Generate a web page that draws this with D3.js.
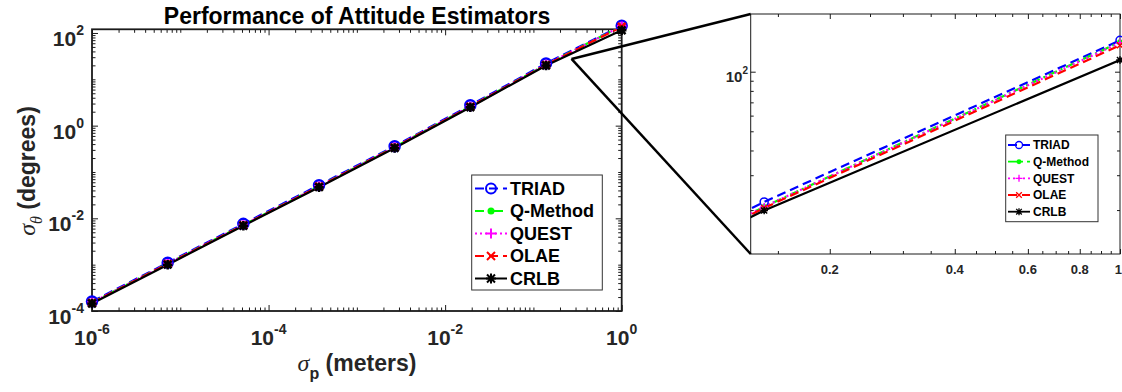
<!DOCTYPE html>
<html><head><meta charset="utf-8">
<script src="https://cdn.jsdelivr.net/npm/d3@7"></script>
<style>
html,body{margin:0;padding:0;background:#fff;}
svg{display:block;font-family:"Liberation Sans",Arial,Helvetica,sans-serif;}
</style></head><body>
<svg id="chart" width="1122" height="392"></svg>
<script>
// Position noise level (m)
const sigmaP = [1e-6, 7.2e-6, 5.18e-5, 3.73e-4, 2.68e-3, 1.93e-2, 0.139, 1];
// Attitude error (deg) for each estimator
const triad   = [1.6e-4, 1.1e-3, 7.6e-3, 5.2e-2, 0.36, 2.75, 22.0, 144];
const qMethod = [1.52e-4, 1.05e-3, 7.2e-3, 4.9e-2, 0.345, 2.6, 20.8, 141];
const quest   = [1.52e-4, 1.05e-3, 7.2e-3, 4.9e-2, 0.345, 2.6, 20.8, 140];
const olae    = [1.5e-4, 1.04e-3, 7.1e-3, 4.85e-2, 0.34, 2.58, 20.5, 136];
const crlb    = [1.45e-4, 1.0e-3, 6.9e-3, 4.7e-2, 0.33, 2.5, 19.9, 114.6];
const seriesNames = ["TRIAD", "Q-Method", "QUEST", "OLAE", "CRLB"];
// Labelled tick exponents / values
const xTickExp = [-6, -4, -2, 0];
const yTickExp = [-4, -2, 0, 2];
const zoomXTicks = [0.2, 0.4, 0.6, 0.8, 1];
const zoomYTickExp = [2];
// Point on the main axes where the magnifier lines start
const zoomAnchor = [0.27, 27.5];

const seriesValues = [triad, qMethod, quest, olae, crlb];
const styleOf = {
  "TRIAD":    {color: "#0000ff", dash: "9,5",     marker: "o"},
  "Q-Method": {color: "#00ff00", dash: "9,4,2,4", marker: "dot"},
  "QUEST":    {color: "#ff00ff", dash: "2,3",     marker: "plus"},
  "OLAE":     {color: "#ff0000", dash: "9,5",     marker: "x"},
  "CRLB":     {color: "#000000", dash: null,      marker: "star"}
};
const series = seriesNames.map((name, i) => ({
  name, style: styleOf[name],
  points: sigmaP.map((x, j) => ({x, y: seriesValues[i][j]}))
}));

const svg = d3.select("#chart");
const AX = "#1a1a1a";

function drawMarker(g, type, cx, cy, s, color, sw) {
  if (type === "o") {
    g.append("circle").attr("cx", cx).attr("cy", cy).attr("r", s)
      .attr("fill", "none").attr("stroke", color).attr("stroke-width", sw);
  } else if (type === "dot") {
    g.append("circle").attr("cx", cx).attr("cy", cy).attr("r", s * 0.7)
      .attr("fill", color);
  } else {
    const p = d3.path();
    const h = s, d = s * 0.8;
    if (type === "plus" || type === "star") {
      p.moveTo(cx - h, cy); p.lineTo(cx + h, cy);
      p.moveTo(cx, cy - h); p.lineTo(cx, cy + h);
    }
    if (type === "x" || type === "star") {
      p.moveTo(cx - d, cy - d); p.lineTo(cx + d, cy + d);
      p.moveTo(cx - d, cy + d); p.lineTo(cx + d, cy - d);
    }
    g.append("path").attr("d", p.toString()).attr("fill", "none")
      .attr("stroke", color).attr("stroke-width", sw);
  }
}

// All 1..9 x 10^n values inside a log domain
function logMinor(domain) {
  const out = [];
  const lo = Math.floor(Math.log10(domain[0])), hi = Math.ceil(Math.log10(domain[1]));
  for (let n = lo; n <= hi; n++)
    for (let k = 1; k <= 9; k++) {
      const v = k * Math.pow(10, n);
      if (v >= domain[0] * 0.9999 && v <= domain[1] * 1.0001) out.push(v);
    }
  return out;
}

function tickSet(g, axisFn, scale, values, len, tr) {
  const a = g.append("g").attr("transform", tr)
    .call(axisFn(scale).tickValues(values).tickSize(-len).tickSizeOuter(0).tickFormat(""));
  a.select(".domain").remove();
  a.selectAll(".tick line").attr("stroke", AX).attr("stroke-width", 1);
  return a;
}

function drawFrame(g, x, y, major, minor, majLen, minLen, sw) {
  const [x0, x1] = x.range(), [y0, y1] = y.range();
  tickSet(g, d3.axisBottom, x, minor.x, minLen, `translate(0,${y0})`);
  tickSet(g, d3.axisBottom, x, major.x, majLen, `translate(0,${y0})`);
  tickSet(g, d3.axisTop, x, minor.x, minLen, `translate(0,${y1})`);
  tickSet(g, d3.axisTop, x, major.x, majLen, `translate(0,${y1})`);
  tickSet(g, d3.axisLeft, y, minor.y, minLen, `translate(${x0},0)`);
  tickSet(g, d3.axisLeft, y, major.y, majLen, `translate(${x0},0)`);
  tickSet(g, d3.axisRight, y, minor.y, minLen, `translate(${x1},0)`);
  tickSet(g, d3.axisRight, y, major.y, majLen, `translate(${x1},0)`);
  g.append("rect").attr("x", x0).attr("y", y1).attr("width", x1 - x0).attr("height", y0 - y1)
    .attr("fill", "none").attr("stroke", AX).attr("stroke-width", sw);
}

function drawSeries(g, x, y, clipId, lw, ms, msw, inDomain) {
  const line = d3.line().x(d => x(d.x)).y(d => y(d.y));
  const lines = g.append("g").attr("clip-path", `url(#${clipId})`);
  series.forEach(s => {
    lines.append("path").attr("d", line(s.points)).attr("fill", "none")
      .attr("stroke", s.style.color).attr("stroke-width", lw)
      .attr("stroke-dasharray", s.style.dash);
  });
  series.forEach(s => {
    const mg = g.append("g");
    s.points.filter(inDomain).forEach(p => {
      const sz = s.style.marker === "o" ? ms : (s.style.marker === "dot" ? ms : ms * 0.95);
      drawMarker(mg, s.style.marker, x(p.x), y(p.y), sz, s.style.color, msw);
    });
  });
}

function drawLegend(g, x0, y0, w, h, rowY, sx0, sx1, tx, fs, lw, ms, msw) {
  g.append("rect").attr("x", x0).attr("y", y0).attr("width", w).attr("height", h)
    .attr("fill", "#fff").attr("stroke", "#333").attr("stroke-width", 1);
  series.forEach((s, i) => {
    const yy = rowY[i];
    g.append("line").attr("x1", sx0).attr("x2", sx1).attr("y1", yy).attr("y2", yy)
      .attr("stroke", s.style.color).attr("stroke-width", lw)
      .attr("stroke-dasharray", s.style.dash);
    drawMarker(g, s.style.marker, (sx0 + sx1) / 2, yy, ms, s.style.color, msw);
    g.append("text").attr("x", tx).attr("y", yy + fs * 0.36)
      .attr("font-size", fs).attr("font-weight", "bold").attr("fill", "#000").text(s.name);
  });
}

function powLabel(g, px, py, exp, anchor, fs, efs, edy) {
  const t = g.append("text").attr("x", px).attr("y", py).attr("text-anchor", anchor)
    .attr("font-weight", "bold").attr("fill", "#262626");
  t.append("tspan").attr("font-size", fs).text("10");
  t.append("tspan").attr("font-size", efs).attr("dy", edy).text(String(exp));
}

const defs = svg.append("defs");

// ---------- main axes ----------
const x = d3.scaleLog().domain([1e-6, 1]).range([92, 621.7]);
const y = d3.scaleLog().domain([1e-4, 120]).range([311, 29.3]);
defs.append("clipPath").attr("id", "clipMain").append("rect")
  .attr("x", 92).attr("y", 29.3).attr("width", 529.7).attr("height", 281.7);

const main = svg.append("g");
const xMajor = xTickExp.map(e => Math.pow(10, e));
const yMajor = yTickExp.map(e => Math.pow(10, e));
drawFrame(main, x, y,
  {x: xMajor, y: yMajor},
  {x: logMinor(x.domain()).filter(v => !xMajor.some(m => Math.abs(m - v) / m < 1e-9)),
   y: logMinor(y.domain()).filter(v => !yMajor.some(m => Math.abs(m - v) / m < 1e-9))},
  6, 3.5, 1.8);

xTickExp.forEach(e => powLabel(main, x(Math.pow(10, e)), 345, e, "middle", 21, 14, -11));
yTickExp.forEach(e => powLabel(main, 84, y(Math.pow(10, e)) + 13, e, "end", 21, 14, -11));

drawSeries(main, x, y, "clipMain", 2.2, 5, 2.5, () => true);

drawLegend(main, 471.7, 175, 130.6, 115, [188.5, 211, 233.5, 256, 278.5],
  475, 507, 510, 18, 2, 5, 2);

svg.append("text").attr("x", 357).attr("y", 23.5).attr("text-anchor", "middle")
  .attr("font-size", 23).attr("font-weight", "bold").attr("fill", "#000")
  .text("Performance of Attitude Estimators");

const xl = svg.append("text").attr("x", 357).attr("y", 371).attr("text-anchor", "middle")
  .attr("fill", "#262626");
xl.append("tspan").attr("font-family", "'Liberation Serif','Times New Roman',serif")
  .attr("font-style", "italic").attr("font-size", 24).text("σ");
xl.append("tspan").attr("font-size", 16).attr("font-weight", "bold").attr("dy", 8).text("p");
xl.append("tspan").attr("font-size", 23).attr("font-weight", "bold").attr("dy", -8).text(" (meters)");

const yl = svg.append("text").attr("transform", "translate(35,171) rotate(-90)")
  .attr("text-anchor", "middle").attr("fill", "#262626");
yl.append("tspan").attr("font-family", "'Liberation Serif','Times New Roman',serif")
  .attr("font-style", "italic").attr("font-size", 24).text("σ");
yl.append("tspan").attr("font-family", "'Liberation Serif','Times New Roman',serif")
  .attr("font-style", "italic").attr("font-size", 16).attr("dy", 7).text("θ");
yl.append("tspan").attr("font-size", 23).attr("font-weight", "bold").attr("dy", -7).text(" (degrees)");

// ---------- magnified axes ----------
const zx = d3.scaleLog().domain([0.129, 1]).range([750.7, 1120]);
const zy = d3.scaleLog().domain([12, 195.6]).range([254, 14]);
defs.append("clipPath").attr("id", "clipZoom").append("rect")
  .attr("x", 750.7).attr("y", 14).attr("width", 369.3).attr("height", 240);

const zoom = svg.append("g");
zoom.append("rect").attr("x", 750.7).attr("y", 14).attr("width", 369.3).attr("height", 240).attr("fill", "#fff");
const zxMinor = d3.range(3, 21).map(k => k * 0.05).filter(v => v >= 0.129 && !zoomXTicks.some(t => Math.abs(t - v) < 1e-9));
const zyMajor = zoomYTickExp.map(e => Math.pow(10, e));
drawFrame(zoom, zx, zy,
  {x: zoomXTicks, y: zyMajor},
  {x: zxMinor, y: logMinor(zy.domain()).filter(v => !zyMajor.includes(v))},
  5, 3, 1);

// the last label sits at the figure edge, so it is right-aligned there
zoomXTicks.forEach(v => {
  const px = zx(v), atEdge = px + 5 > 1122;
  zoom.append("text").attr("x", atEdge ? 1122 : px).attr("y", 274.3)
    .attr("text-anchor", atEdge ? "end" : "middle").attr("font-size", 13).attr("font-weight", "bold")
    .attr("fill", "#262626").text(String(v));
});
zoomYTickExp.forEach(e => powLabel(zoom, 748, zy(Math.pow(10, e)) + 10, e, "end", 15, 10, -7.5));

drawSeries(zoom, zx, zy, "clipZoom", 2.2, 4, 1.5, p => p.x >= zx.domain()[0]);

drawLegend(zoom, 1005.7, 135, 92.3, 86.7, [145, 161.7, 178.3, 195, 211.7],
  1008, 1030, 1033, 12, 1.8, 3.5, 1.3);

// ---------- magnifier connector lines ----------
const ax = x(zoomAnchor[0]), ay = y(zoomAnchor[1]);
[[zx.range()[0], zy.range()[1]], [zx.range()[0], zy.range()[0]]].forEach(([cx, cy]) => {
  svg.append("line").attr("x1", ax).attr("y1", ay).attr("x2", cx).attr("y2", cy)
    .attr("stroke", "#000").attr("stroke-width", 2.5);
});
</script>
</body></html>
